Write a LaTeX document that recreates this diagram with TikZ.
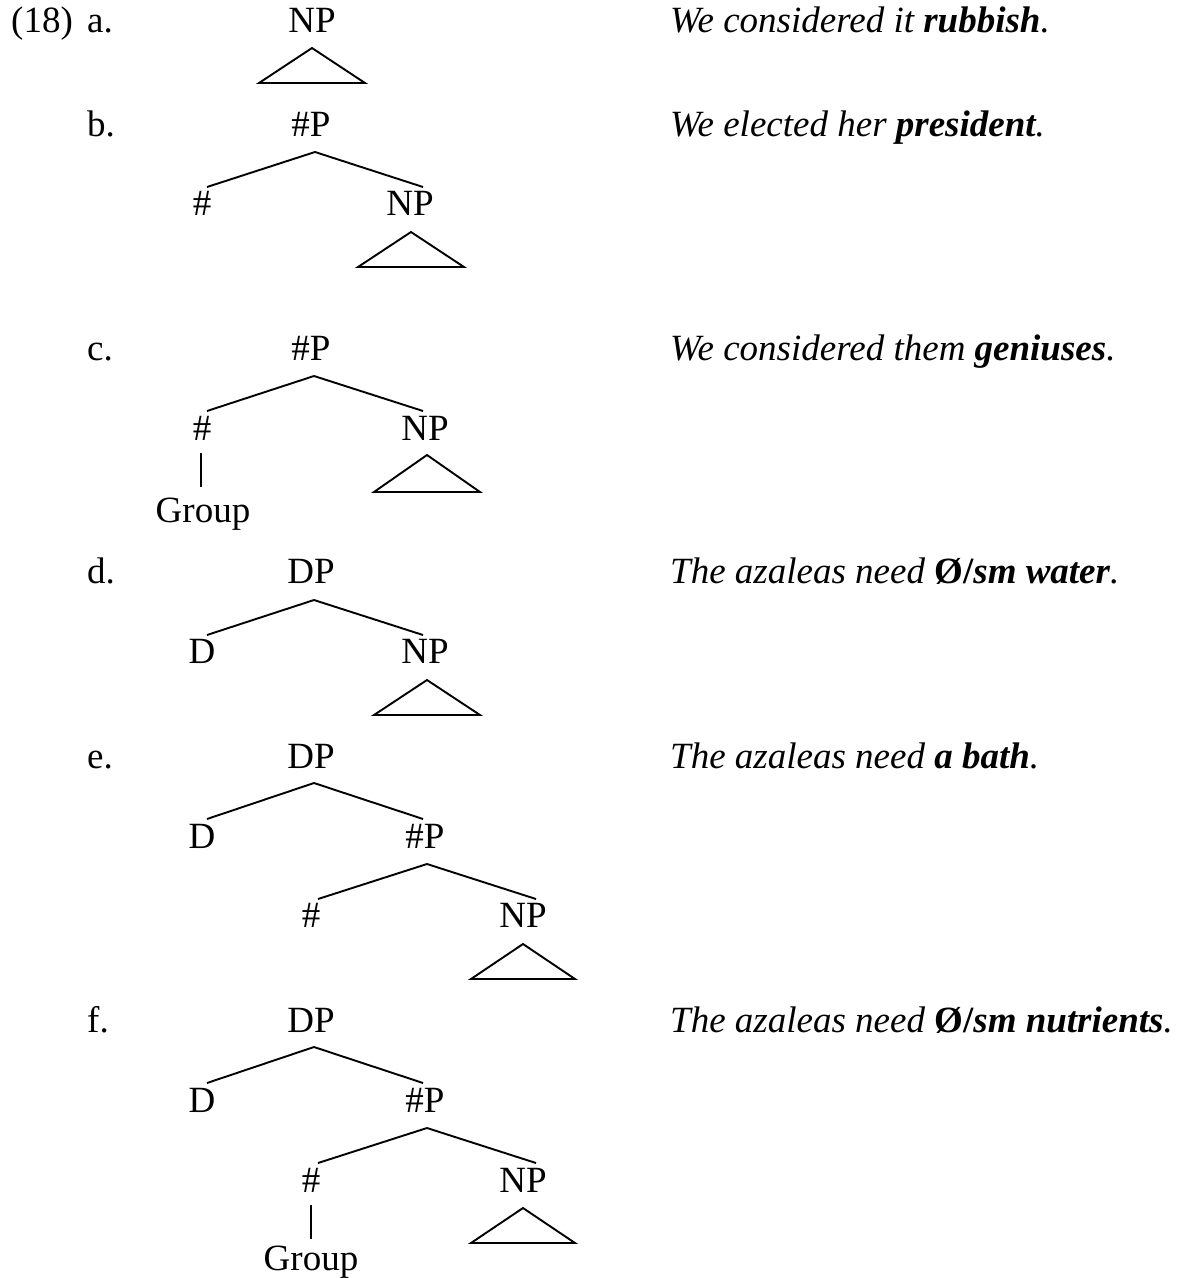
\documentclass[tikz,border=0pt]{standalone}
\usepackage{fontspec}
\setmainfont{Liberation Serif}
\usetikzlibrary{calc}
\begin{document}
\begin{tikzpicture}[x=1pt,y=-1pt,
  lbl/.style={anchor=base,inner sep=0pt,font=\fontsize{37}{44}\selectfont},
  num/.style={anchor=base west,inner sep=0pt,font=\fontsize{37}{44}\selectfont},
  sent/.style={anchor=base west,inner sep=0pt,font=\fontsize{37}{44}\selectfont\itshape},
  br/.style={line width=1.9pt},
  tri/.style={line width=1.9pt,line join=miter}]
\useasboundingbox (0,0) rectangle (1178,1278);
% numbering
\node[num] (n18) at (11,32) {(18)};
\node[num] (la) at (87,32) {a.};
\node[num] (lb) at (87,136) {b.};
\node[num] (lc) at (87,360) {c.};
\node[num] (ld) at (87,583) {d.};
\node[num] (le) at (87,768) {e.};
\node[num] (lf) at (87,1032) {f.};
% sentences
\node[sent] (sa) at (670,32) {We considered it \textbf{rubbish}.};
\node[sent] (sb) at (670,136) {We elected her \textbf{president}.};
\node[sent] (sc) at (670,360) {We considered them \textbf{geniuses}.};
\node[sent] (sd) at (670,583) {The azaleas need {\upshape\bfseries Ø/}\textbf{sm water}.};
\node[sent] (se) at (670,768) {The azaleas need \textbf{a bath}.};
\node[sent] (sf) at (670,1032) {The azaleas need {\upshape\bfseries Ø/}\textbf{sm nutrients}.};
% (a)
\node[lbl] (aNP) at (312,32) {NP};
\draw[tri] ($(aNP.base)+(0,16)$) -- ++(-53,35) -- ++(106,0) -- cycle;
% (b)
\node[lbl] (bP) at (311,136) {\#P};
\node[lbl] (bH) at (202,215) {\#};
\node[lbl] (bNP) at (410,215) {NP};
\draw[br] ($(bH.base)+(5,-28)$) -- ($(bP.base)+(4,16)$) -- ($(bNP.base)+(13,-28)$);
\draw[tri] ($(bNP.base)+(1,17)$) -- ++(-53,35) -- ++(106,0) -- cycle;
% (c)
\node[lbl] (cP) at (311,360) {\#P};
\node[lbl] (cH) at (202,440) {\#};
\node[lbl] (cNP) at (425,440) {NP};
\node[lbl] (cG) at (203,522) {Group};
\draw[br] ($(cH.base)+(5,-29)$) -- ($(cP.base)+(3,16)$) -- ($(cNP.base)+(-2,-29)$);
\draw[br] ($(cH.base)+(-1,13)$) -- ($(cG.base)+(-2,-35)$);
\draw[tri] ($(cNP.base)+(2,15)$) -- ++(-53,37) -- ++(106,0) -- cycle;
% (d)
\node[lbl] (dP) at (311,583) {DP};
\node[lbl] (dD) at (202,663) {D};
\node[lbl] (dNP) at (425,663) {NP};
\draw[br] ($(dD.base)+(5,-28)$) -- ($(dP.base)+(3,17)$) -- ($(dNP.base)+(-2,-28)$);
\draw[tri] ($(dNP.base)+(2,17)$) -- ++(-53,35) -- ++(106,0) -- cycle;
% (e)
\node[lbl] (eP) at (311,768) {DP};
\node[lbl] (eD) at (202,848) {D};
\node[lbl] (eHP) at (425,848) {\#P};
\node[lbl] (eH) at (311,927) {\#};
\node[lbl] (eNP) at (523,927) {NP};
\draw[br] ($(eD.base)+(5,-29)$) -- ($(eP.base)+(3,15)$) -- ($(eHP.base)+(-2,-29)$);
\draw[br] ($(eH.base)+(7,-28)$) -- ($(eHP.base)+(2,16)$) -- ($(eNP.base)+(13,-28)$);
\draw[tri] ($(eNP.base)+(0,17)$) -- ++(-52,35) -- ++(104,0) -- cycle;
% (f)
\node[lbl] (fP) at (311,1032) {DP};
\node[lbl] (fD) at (202,1112) {D};
\node[lbl] (fHP) at (425,1112) {\#P};
\node[lbl] (fH) at (311,1192) {\#};
\node[lbl] (fNP) at (523,1192) {NP};
\node[lbl] (fG) at (311,1270) {Group};
\draw[br] ($(fD.base)+(5,-29)$) -- ($(fP.base)+(3,15)$) -- ($(fHP.base)+(-2,-29)$);
\draw[br] ($(fH.base)+(7,-29)$) -- ($(fHP.base)+(2,16)$) -- ($(fNP.base)+(13,-29)$);
\draw[br] ($(fH.base)+(0,13)$) -- ($(fG.base)+(0,-31)$);
\draw[tri] ($(fNP.base)+(0,16)$) -- ++(-52,35) -- ++(104,0) -- cycle;
\end{tikzpicture}
\end{document}
